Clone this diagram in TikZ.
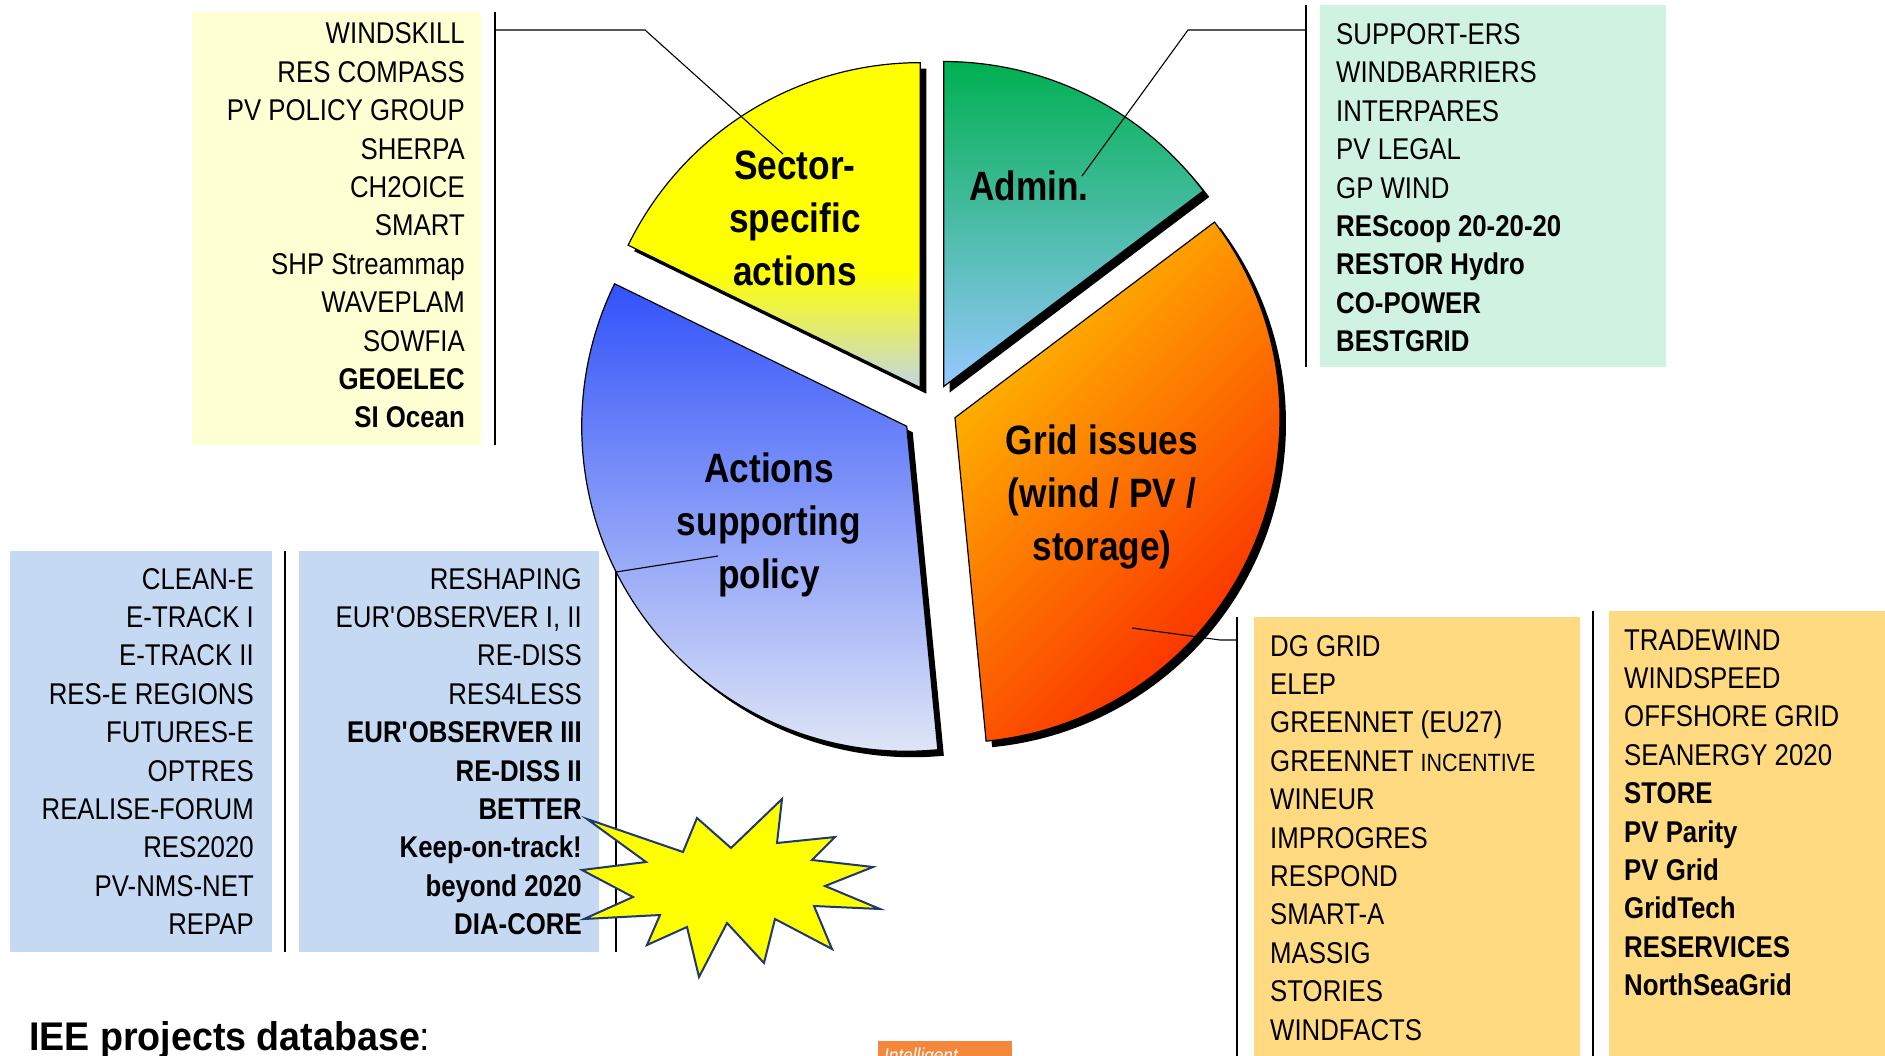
\documentclass[tikz,border=0pt]{standalone}
\usepackage{fontspec}
\setmainfont{Liberation Sans}[FakeStretch=0.86]
\newfontfamily\footfont{Liberation Sans}[FakeStretch=0.94]
\usepackage{tikz}
\usetikzlibrary{calc}
\definecolor{listyellow}{RGB}{255,255,212}
\definecolor{listgreen}{RGB}{208,242,224}
\definecolor{listblue}{RGB}{198,217,242}
\definecolor{listorange}{RGB}{255,218,128}
\definecolor{secyellow}{RGB}{255,255,0}
\definecolor{secgrey}{RGB}{196,214,226}
\definecolor{admgreen}{RGB}{0,176,80}
\definecolor{admteal}{RGB}{64,184,170}
\definecolor{admblue}{RGB}{150,200,255}
\definecolor{gridamber}{RGB}{255,190,0}
\definecolor{gridorange}{RGB}{255,110,0}
\definecolor{gridred}{RGB}{250,30,0}
\definecolor{polblue}{RGB}{50,82,250}
\definecolor{polmid}{RGB}{135,160,240}
\definecolor{pollight}{RGB}{228,234,246}
\definecolor{starnavy}{RGB}{31,56,112}
\definecolor{intelorange}{RGB}{245,135,60}
\pgfdeclareverticalshading{secshade}{100bp}{color(0bp)=(secgrey); color(25bp)=(secgrey); color(43bp)=(secyellow); color(100bp)=(secyellow)}
\tikzset{
	listright/.style={anchor=base east, inner sep=0pt, font=\fontsize{30}{36}\selectfont},
	listleft/.style={anchor=base west, inner sep=0pt, font=\fontsize{30}{36}\selectfont},
	slicetext/.style={align=center, inner sep=0pt, font=\fontsize{41}{53}\selectfont\bfseries},
	sepline/.style={line width=2pt},
	leader/.style={line width=1.1pt},
	shadow/.style={fill=black, transform canvas={shift={(6,6)}}},
	slice/.style={draw=black, line width=1.2pt},
}

\begin{document}
\begin{tikzpicture}[x=1pt, y=-1pt]
	\fill[white] (0,0) rectangle (1885,1056);
	\useasboundingbox (0,0) rectangle (1885,1056);

	% list boxes
	\fill[listyellow] (192,12) rectangle (481,445);
	\fill[listgreen] (1320,5) rectangle (1666,367);
	\fill[listblue] (10,551) rectangle (272,952);
	\fill[listblue] (299,551) rectangle (599,952);
	\fill[listorange] (1254,617) rectangle (1580,1056);
	\fill[listorange] (1609,611) rectangle (1885,1056);

	\draw[sepline] (495,12) -- (495,445);
	\draw[sepline] (1306,5) -- (1306,367);
	\draw[sepline] (285,551) -- (285,952);
	\draw[sepline] (616,551) -- (616,952);
	\draw[sepline] (1237,617) -- (1237,1056);
	\draw[sepline] (1593,611) -- (1593,1056);

	% pie
	\def\radius{325}
	\coordinate (O) at (933,408);
	\coordinate (adm) at ($(O)+(-63.5:24)$);
	\coordinate (sec) at ($(O)+(-122:24)$);
	\coordinate (pol) at ($(O)+(-214.75:32)$);
	\coordinate (grid) at ($(O)+(23.75:24)$);

	% Admin.
	\fill[shadow] (adm) -- ++(-90:\radius) arc[start angle=-90, end angle=-37, radius=\radius] -- cycle;
	\shade[slice, top color=admgreen, middle color=admteal, bottom color=admblue] (adm) -- ++(-90:\radius) arc[start angle=-90, end angle=-37, radius=\radius] -- cycle;

	% Sector-specific
	\fill[shadow] (sec) -- ++(-154:\radius) arc[start angle=-154, end angle=-90, radius=\radius] -- cycle;
	\shade[slice, shading=secshade] (sec) -- ++(-154:\radius) arc[start angle=-154, end angle=-90, radius=\radius] -- cycle;

	% policy
	\fill[shadow] (pol) -- ++(-275.5:\radius) arc[start angle=-275.5, end angle=-154, radius=\radius] -- cycle;
	\shade[slice, top color=polblue, middle color=polmid, bottom color=pollight] (pol) -- ++(-275.5:\radius) arc[start angle=-275.5, end angle=-154, radius=\radius] -- cycle;

	% grid
	\fill[shadow] (grid) -- ++(-37:\radius) arc[start angle=-37, end angle=84.5, radius=\radius] -- cycle;
	\shade[slice, top color=gridamber, middle color=gridorange, bottom color=gridred, shading angle=45] (grid) -- ++(-37:\radius) arc[start angle=-37, end angle=84.5, radius=\radius] -- cycle;

	\node[slicetext] (sectxt) at (795,218) {Sector-\\specific\\actions};
	\node[slicetext] (admtxt) at (1029,186) {Admin.};
	\node[slicetext] (gridtxt) at (1102,497) {Grid issues\\(wind / PV /\\storage)};
	\node[slicetext] (poltxt) at (769,525) {Actions\\supporting\\policy};

	% leaders
	\coordinate (secA) at (495,30);
	\coordinate (secB) at (645,30);
	\coordinate (secC) at (783,154);
	\draw[leader] (secA) -- (secB) -- (secC);
	\coordinate (admA) at (1306,30);
	\coordinate (admB) at (1188,30);
	\coordinate (admC) at (1082,176);
	\draw[leader] (admA) -- (admB) -- (admC);
	\coordinate (polA) at (616,572);
	\coordinate (polB) at (718,556);
	\draw[leader] (polA) -- (polB);
	\coordinate (gridA) at (1237,640);
	\coordinate (gridB) at (1220,640);
	\coordinate (gridC) at (1132,628);
	\draw[leader] (gridA) -- (gridB) -- (gridC);

	% lists
	\foreach \txt [count=\i from 0] in {WINDSKILL, RES COMPASS, PV POLICY GROUP, SHERPA, CH2OICE, SMART, SHP Streammap, WAVEPLAM, SOWFIA, \textbf{GEOELEC}, \textbf{SI Ocean}}
		\node[listright] (seclist-\i) at (465,44+38.4*\i) {\txt};

	\foreach \txt [count=\i from 0] in {SUPPORT-ERS, WINDBARRIERS, INTERPARES, PV LEGAL, GP WIND, \textbf{REScoop 20-20-20}, \textbf{RESTOR Hydro}, \textbf{CO-POWER}, \textbf{BESTGRID}}
		\node[listleft] (admlist-\i) at (1336,44.5+38.4*\i) {\txt};

	\foreach \txt [count=\i from 0] in {CLEAN-E, E-TRACK I, E-TRACK II, RES-E REGIONS, FUTURES-E, OPTRES, REALISE-FORUM, RES2020, PV-NMS-NET, REPAP}
		\node[listright] (pollist-\i) at (254,589+38.4*\i) {\txt};

	\foreach \txt [count=\i from 0] in {RESHAPING, {EUR\textquotesingle OBSERVER I, II}, RE-DISS, RES4LESS, \textbf{EUR\textquotesingle OBSERVER III}, \textbf{RE-DISS II}, \textbf{BETTER}, \textbf{Keep-on-track!}, \textbf{beyond 2020}, \textbf{DIA-CORE}}
		\node[listright] (newlist-\i) at (582,589+38.4*\i) {\txt};

	\foreach \txt [count=\i from 0] in {DG GRID, ELEP, GREENNET (EU27), GREENNET {\fontsize{25}{30}\selectfont INCENTIVE}, WINEUR, IMPROGRES, RESPOND, SMART-A, MASSIG, STORIES, WINDFACTS}
		\node[listleft] (gridlist-\i) at (1270,656+38.4*\i) {\txt};

	\foreach \txt [count=\i from 0] in {TRADEWIND, WINDSPEED, OFFSHORE GRID, SEANERGY 2020, \textbf{STORE}, \textbf{PV Parity}, \textbf{PV Grid}, \textbf{GridTech}, \textbf{RESERVICES}, \textbf{NorthSeaGrid}}
		\node[listleft] (netlist-\i) at (1624,650+38.4*\i) {\txt};

	% star
	\draw[starnavy, line width=2pt, line join=miter, fill=secyellow] (587,819) -- (683,852) -- (697,818) -- (731,848) -- (782,799) -- (777,843) -- (835,837) -- (812,860) -- (873,867) -- (825,886) -- (880,909) -- (814,906) -- (832,949) -- (775,919) -- (764,963) -- (727,923) -- (699,977) -- (687,927) -- (647,945) -- (660,915) -- (584,919) -- (633,897) -- (582,870) -- (646,862) -- cycle;

	% footer
	\node[anchor=base west, inner sep=0pt, font=\footfont\fontsize{40}{48}\selectfont] (iee) at (29,1050) {\textbf{IEE projects database}:};
	\fill[intelorange] (878,1041) rectangle (1012,1060);
	\node[anchor=base west, inner sep=0pt, text=white, font=\fontsize{20}{24}\selectfont\itshape] (intel) at (884,1062) {Intelligent};
\end{tikzpicture}
\end{document}
